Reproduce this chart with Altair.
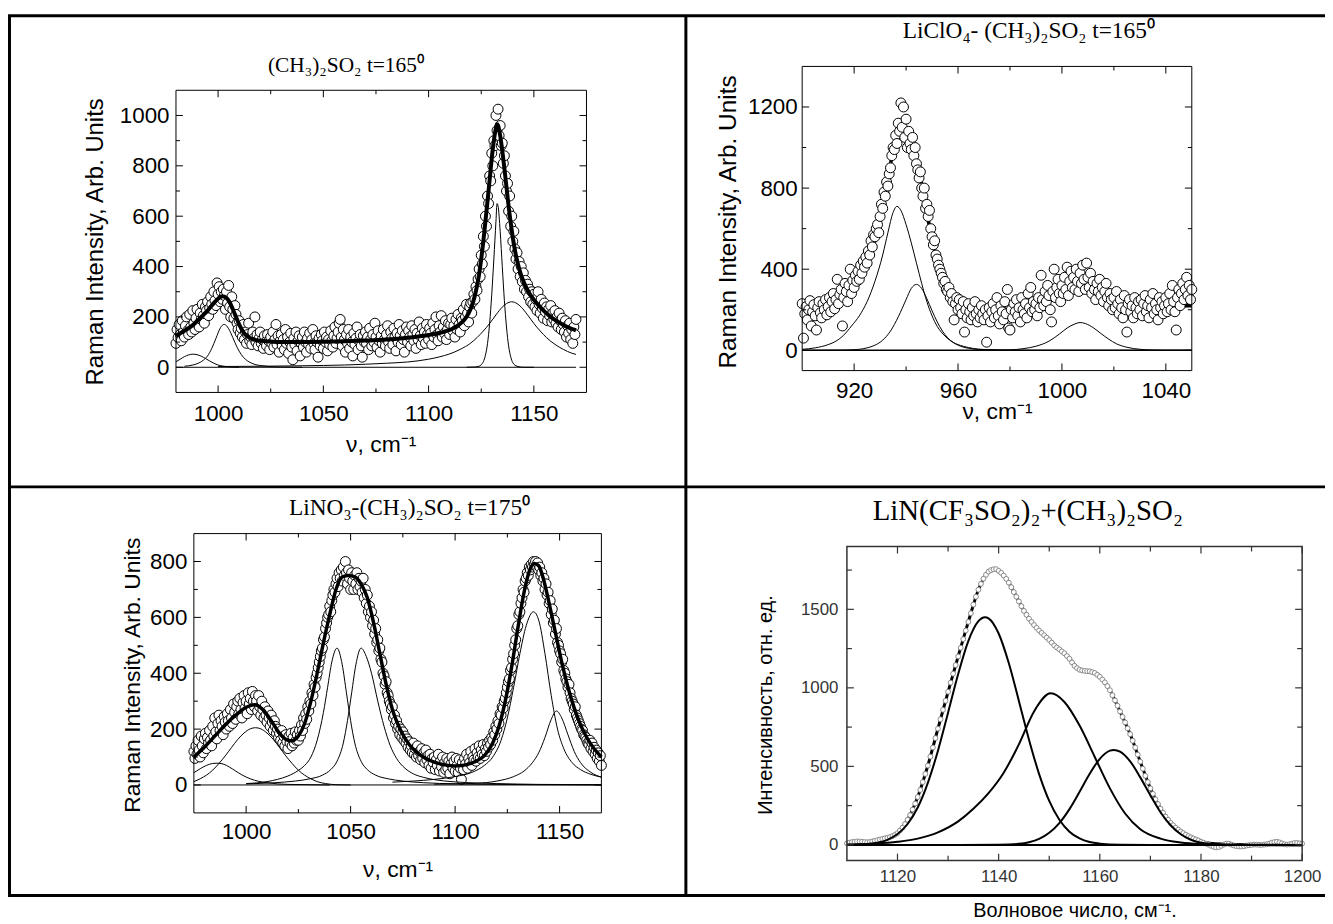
import altair as alt
import pandas as pd
import numpy as np

W, H = 1325, 916
SANS = "Liberation Sans, Arial, sans-serif"
SERIF = "Liberation Serif, Times New Roman, serif"

# ---------------- Panel 1: (CH3)2SO2 t=165 ----------------
p1_scatter_start, p1_scatter_step = 980, 0.5
p1_scatter_y = [
    95,150,118,170,130,105,185,140,120,165,200,145,130,210,160,140,225,175,150,195,
    230,170,160,215,190,250,205,175,240,225,260,205,235,280,250,230,300,265,245,335,
    290,320,260,300,270,310,285,230,300,255,325,240,200,280,230,195,245,210,175,150,
    185,135,155,120,170,110,140,95,130,175,105,120,90,140,115,200,100,130,85,115,
    140,95,110,75,125,100,85,130,105,70,120,95,140,80,110,170,90,125,60,105,
    130,85,110,70,150,95,120,55,100,135,80,30,115,90,140,65,105,125,45,95,
    120,80,140,100,60,115,90,135,75,110,150,95,70,125,100,40,115,85,130,105,
    75,140,100,120,65,110,90,145,105,80,125,160,95,115,140,175,190,120,85,150,
    110,60,130,95,150,75,120,100,45,135,90,115,160,70,105,130,85,40,125,100,
    140,95,120,70,155,110,85,130,100,175,120,80,145,105,60,125,95,150,110,85,
    130,165,100,75,140,115,90,155,120,65,135,100,170,125,90,145,110,60,130,160,
    100,145,120,85,165,130,105,150,75,135,110,180,125,90,155,115,140,95,170,130,
    110,155,135,90,175,120,150,200,130,105,165,140,205,120,160,135,185,110,150,175,
    130,170,195,145,165,120,190,150,210,170,140,195,185,230,165,200,250,215,180,240,
    255,215,260,290,270,320,305,350,390,360,445,410,520,480,600,560,680,650,760,740,
    850,800,900,880,1000,940,1025,920,960,880,890,810,840,760,700,730,620,680,560,600,
    500,540,470,430,455,390,420,360,400,340,375,310,345,300,330,280,310,260,300,250,
    290,240,270,225,300,250,215,270,235,195,255,220,240,185,230,205,245,180,215,190,
    225,175,200,160,215,185,150,195,170,140,185,120,165,135,175,110,150,95,160,130,
    190]
p1_fit = [(980,125),(983,140),(986,155),(989,175),(992,200),(995,225),(998,255),(1000,272),
          (1002,282),(1004,275),(1006,250),(1008,210),(1010,170),(1012,140),(1014,122),(1016,113),
          (1018,108),(1020,105),(1025,102),(1030,100),(1040,100),(1050,101),(1060,103),(1070,106),
          (1080,110),(1090,117),(1095,122),(1100,128),(1105,136),(1108,143),(1110,148),(1112,156),
          (1114,166),(1116,180),(1118,200),(1120,232),(1122,285),(1124,370),(1125,430),(1126,500),
          (1127,580),(1128,660),(1129,745),(1130,830),(1131,900),(1132,950),(1132.5,965),(1133,960),
          (1134,920),(1135,860),(1136,790),(1137,715),(1138,640),(1139,575),(1140,515),(1141,465),
          (1142,425),(1143,392),(1144,365),(1145,343),(1146,323),(1148,292),(1150,268),(1152,248),
          (1155,222),(1158,200),(1161,183),(1164,168),(1167,156),(1170,147)]
p1_comp_a = [(980,22),(982,32),(984,42),(986,49),(988,52),(990,50),(992,44),(994,35),(996,25),
             (998,16),(1000,9),(1002,5),(1005,2),(1010,0)]
p1_comp_b = [(984,4),(988,9),(990,14),(993,28),(995,45),(997,75),(999,115),(1001,155),(1002,167),
             (1003,170),(1004,165),(1006,137),(1008,98),(1010,64),(1012,40),(1014,25),(1016,16),
             (1018,10),(1020,7),(1024,3),(1030,1),(1040,0)]
p1_comp_c = [(1000,3),(1020,4),(1040,6),(1060,9),(1080,16),(1090,21),(1100,32),(1105,41),(1110,53),
             (1115,71),(1120,96),(1123,118),(1126,144),(1129,174),(1132,208),(1135,239),(1137,253),
             (1139.5,260),(1142,253),(1144,239),(1147,208),(1150,174),(1153,144),(1156,118),(1160,91),
             (1164,71),(1168,56),(1170,51)]
p1_comp_d = [(1118,0),(1122,1),(1124,4),(1125,10),(1126,22),(1127,48),(1128,95),(1129,175),(1130,290),
             (1131,430),(1132,580),(1132.5,650),(1133,640),(1134,540),(1135,400),(1136,265),(1137,160),
             (1138,85),(1139,42),(1140,18),(1142,4),(1145,0),(1150,0)]
p1_base = [(980,0),(1170,0)]

# ---------------- Panel 2: LiClO4-(CH3)2SO2 t=165 ----------------
p2_scatter_start, p2_scatter_step = 900, 0.5
p2_scatter_y = [
    230,60,180,215,150,200,245,120,190,225,170,100,210,240,185,160,230,200,250,175,
    215,260,190,240,280,205,250,350,230,275,300,120,260,330,290,240,320,400,280,345,
    310,370,340,390,350,420,380,440,410,460,430,490,470,540,510,570,560,600,620,580,
    660,720,700,780,760,830,810,870,900,960,1000,990,1060,1020,1120,1080,1220,1100,1200,1050,
    1140,1000,1080,1020,990,1050,960,1000,920,890,850,880,800,760,800,700,720,660,690,600,
    560,520,540,470,450,420,400,380,360,330,340,300,290,310,260,280,240,150,230,260,
    200,250,210,180,240,90,200,160,230,190,150,210,170,240,180,140,200,160,220,180,
    150,200,40,170,210,140,190,230,160,200,260,170,130,220,190,150,240,180,300,110,
    100,200,160,230,190,250,170,210,140,260,200,180,230,160,280,210,310,190,240,200,
    230,170,260,210,370,250,220,290,240,320,270,200,140,290,400,260,310,350,280,240,
    320,280,360,300,410,270,340,390,310,360,300,400,340,290,380,330,420,350,300,430,
    360,310,380,280,340,300,250,330,290,350,270,310,240,290,330,260,220,280,250,200,
    260,210,290,230,180,250,210,160,270,200,90,230,250,190,220,160,260,210,180,240,
    200,250,170,230,270,190,220,160,250,210,280,180,230,200,150,260,210,240,180,220,
    260,190,230,280,200,320,240,190,100,260,300,220,280,330,250,300,360,270,320,250,
    300]
p2_fit = [(900,195),(905,202),(910,218),(913,235),(916,266),(919,312),(922,363),(925,440),(928,553),
          (931,707),(933,839),(935,986),(936.5,1046),(938,1071),(940,1055),(942,1020),(944,939),
          (946,819),(948,678),(950,548),(952,440),(955,330),(958,261),(962,217),(966,195),(970,188),
          (975,187),(980,191),(985,199),(990,214),(995,242),(999,279),(1002,310),(1005,331),(1007,339),
          (1009,335),(1012,316),(1015,288),(1018,261),(1021,239),(1025,224),(1030,216),(1035,214),
          (1040,215),(1045,218),(1050,220)]
p2_comp_e = [(900,5),(905,12),(910,28),(913,45),(916,75),(919,120),(922,170),(925,240),(928,340),
             (931,470),(933,580),(935,680),(936.5,710),(938,690),(940,620),(942,530),(944,430),
             (946,330),(948,240),(950,170),(952,118),(955,70),(958,40),(962,20),(966,9),(970,4),
             (980,1),(990,0),(1050,0)]
p2_comp_g = [(900,0),(915,1),(920,3),(925,12),(928,25),(931,50),(934,95),(937,165),(940,250),
             (942,305),(944,325),(946,305),(948,255),(950,195),(952,140),(954,95),(956,62),(958,40),
             (961,20),(965,8),(970,2),(975,0)]
p2_comp_h = [(970,0),(980,2),(985,8),(990,20),(995,45),(999,80),(1002,110),(1005,130),(1007,137),
             (1009,132),(1012,112),(1015,83),(1018,55),(1021,32),(1025,15),(1030,5),(1035,1),
             (1040,0),(1050,0)]
p2_base = [(900,0),(1050,0)]

# ---------------- Panel 3: LiNO3-(CH3)2SO2 t=175 ----------------
p3_scatter_start, p3_scatter_step = 975, 0.5
p3_scatter_y = [
    120,95,140,110,160,125,100,175,140,115,165,185,130,170,150,195,160,140,210,175,
    240,190,165,220,250,195,230,210,180,245,225,200,255,230,210,270,240,220,290,260,
    235,280,300,255,310,270,240,295,320,275,300,255,330,290,310,270,335,300,280,320,
    300,265,320,280,250,300,270,240,280,250,225,265,240,210,250,225,195,230,210,185,
    200,170,185,160,195,150,175,140,180,155,130,175,150,185,140,170,150,190,160,180,
    160,195,175,215,195,240,220,255,235,280,265,300,290,330,320,360,350,385,400,420,
    440,460,480,490,520,530,560,580,600,610,640,620,660,680,700,690,720,740,710,760,
    740,770,730,780,750,800,760,720,770,740,700,760,730,700,750,720,760,700,740,710,
    730,690,740,670,700,650,680,620,640,600,620,570,590,540,560,510,520,480,490,450,
    440,400,390,360,370,330,320,300,290,270,280,240,250,220,230,200,210,180,200,170,
    190,160,175,150,165,135,155,125,140,115,150,110,130,100,140,105,120,90,130,95,
    115,80,125,90,105,70,110,60,95,80,100,55,90,70,110,50,85,65,100,45,
    80,55,95,60,85,40,75,100,60,85,50,95,70,45,90,60,20,80,55,95,
    75,110,60,95,80,120,70,100,90,130,85,115,100,140,95,125,110,145,105,130,
    120,150,135,160,145,170,160,190,180,210,200,230,220,255,250,280,275,300,310,330,
    350,370,380,410,420,450,470,500,520,560,570,610,620,650,670,700,690,730,740,760,
    750,780,770,790,780,800,790,800,780,795,770,780,750,760,730,740,700,720,680,690,
    650,660,610,630,580,590,540,560,510,500,480,470,440,450,410,400,380,370,350,360,
    330,310,300,290,270,280,250,240,230,220,210,200,195,180,175,170,160,150,145,160,
    130,150,120,135,110,125,95,115,85,105,70]
p3_fit = [(975,100),(980,135),(985,175),(990,215),(995,250),(1000,278),(1004,287),(1008,270),
          (1012,230),(1016,185),(1020,160),(1022,158),(1025,175),(1028,220),(1031,300),(1034,400),
          (1037,510),(1040,610),(1043,700),(1046,745),(1049,750),(1052,745),(1055,720),(1058,670),
          (1061,580),(1064,470),(1067,360),(1070,270),(1074,195),(1078,145),(1082,115),(1086,95),
          (1090,82),(1095,72),(1100,68),(1105,72),(1110,85),(1114,105),(1118,150),(1121,210),
          (1124,300),(1127,420),(1130,560),(1133,690),(1136,775),(1138,793),(1140,785),(1142,745),
          (1145,650),(1148,545),(1151,440),(1154,350),(1157,275),(1160,215),(1163,170),(1166,135),
          (1170,100)]
p3_comp_1 = [(975,44),(978,58),(981,70),(984,77),(986,78),(989,75),(992,64),(995,50),(998,36),
             (1002,22),(1006,13),(1010,8),(1015,4),(1020,2),(1030,1),(1040,0)]
p3_comp_2 = [(975,12),(978,22),(981,35),(984,53),(987,77),(990,104),(993,134),(996,163),(999,186),
             (1002,201),(1004.5,205),(1007,201),(1010,186),(1013,163),(1016,134),(1019,104),(1022,77),
             (1025,53),(1028,35),(1031,22),(1034,12),(1038,5),(1043,1),(1050,0)]
p3_comp_3 = [(1000,5),(1010,12),(1015,20),(1020,32),(1025,52),(1028,70),(1031,100),(1034,160),
             (1037,260),(1039,350),(1041,440),(1043.5,490),(1046,430),(1048,330),(1050,230),(1052,150),
             (1055,85),(1058,55),(1062,35),(1068,22),(1075,14),(1085,8),(1100,4),(1120,2),(1140,1),
             (1170,0)]
p3_comp_4 = [(1000,4),(1013.5,8),(1023.5,14),(1030.5,22),(1036.5,35),(1040.5,55),(1043.5,85),
             (1046.5,150),(1048.5,230),(1050.5,330),(1052.5,430),(1055,490),(1057.5,460),(1060,400),
             (1063,300),(1066,210),(1069,140),(1072,95),(1076,60),(1080,40),(1085,27),(1090,19),
             (1100,11),(1110,7),(1120,5),(1140,2),(1170,1)]
p3_comp_5 = [(1070,10),(1080,14),(1090,20),(1100,30),(1108,45),(1114,70),(1118,100),(1122,160),
             (1125,240),(1128,350),(1131,470),(1134,570),(1137.5,620),(1140,590),(1143,470),(1146,320),
             (1149,200),(1152,130),(1156,80),(1160,55),(1165,38),(1170,28)]
p3_comp_6 = [(1090,3),(1100,4),(1110,6),(1120,14),(1128,30),(1133,50),(1137,80),(1140,115),(1143,170),
             (1146,235),(1148.5,265),(1151,240),(1154,180),(1157,120),(1160,80),(1165,45),(1170,28)]
p3_base = [(975,0),(1170,0)]

# ---------------- Panel 4: LiN(CF3SO2)2+(CH3)2SO2 ----------------
p4_scatter_start, p4_scatter_step = 1110, 0.5
p4_scatter_y = [
    10,14,18,20,22,22,20,18,17,18,22,26,30,34,38,42,45,50,56,64,
    75,92,110,133,160,190,225,263,305,350,400,452,505,562,620,680,740,800,860,918,
    975,1033,1090,1145,1200,1255,1310,1365,1420,1475,1530,1580,1625,1662,1695,1720,1740,1750,1755,1756,
    1745,1732,1715,1694,1670,1641,1610,1580,1550,1520,1490,1465,1440,1420,1400,1382,1365,1350,1335,1320,
    1305,1288,1270,1257,1245,1232,1220,1203,1185,1162,1140,1126,1115,1111,1108,1106,1105,1100,1095,1083,
    1070,1053,1035,1011,985,953,920,886,850,815,780,742,705,663,620,575,530,485,440,400,
    360,325,290,260,230,205,180,160,140,125,110,97,85,75,65,56,48,41,35,28,
    20,14,8,2,-6,-12,-16,-14,-6,2,8,8,2,-4,-8,-10,-10,-8,-4,-2,
    0,2,2,0,0,2,4,8,14,18,20,16,10,4,2,4,8,12,12,10,
    8]
p4_fit = [(1110,2),(1112,4),(1114,8),(1116,16),(1118,40),(1120,75),(1122,160),(1124,305),(1126,505),
          (1128,740),(1130,975),(1132,1200),(1134,1420),(1136,1625),(1138,1740),(1139,1755),(1140,1745),
          (1142,1670),(1144,1550),(1146,1440),(1148,1365),(1150,1305),(1152,1245),(1154,1185),
          (1156,1115),(1158,1105),(1160,1070),(1162,985),(1164,850),(1166,705),(1168,530),(1170,360),
          (1172,230),(1174,140),(1176,85),(1178,48),(1180,20),(1184,5),(1190,1),(1200,0)]
p4_comp_1 = [(1110,1),(1114,6),(1118,32),(1120,69),(1122,133),(1124,238),(1126,395),(1128,600),
             (1130,842),(1132,1088),(1134,1298),(1136,1425),(1137.3,1450),(1138,1443),(1140,1346),
             (1142,1158),(1144,917),(1146,670),(1148,451),(1150,280),(1152,160),(1154,84),(1156,41),
             (1158,18),(1160,8),(1164,1),(1170,0),(1200,0)]
p4_comp_2 = [(1110,2),(1115,8),(1120,20),(1124,40),(1128,80),(1132,150),(1135,230),(1138,330),
             (1141,460),(1144,640),(1147,850),(1150.3,965),(1153,910),(1156,760),(1159,560),(1162,360),
             (1165,200),(1168,100),(1172,40),(1176,15),(1180,5),(1185,1),(1200,0)]
p4_comp_3 = [(1130,0),(1140,1),(1144,7),(1146,17),(1148,38),(1150,77),(1152,139),(1154,228),(1156,338),
             (1158,453),(1160,548),(1162,600),(1162.8,605),(1164,594),(1166,532),(1168,430),(1170,315),
             (1172,208),(1174,125),(1176,68),(1178,33),(1180,14),(1184,2),(1190,0),(1200,0)]
p4_base = [(1110,0),(1200,0)]

# ---------------- texts ----------------
titles = ["(CH₃)₂SO₂ t=165⁰", "LiClO₄- (CH₃)₂SO₂ t=165⁰", "LiNO₃-(CH₃)₂SO₂ t=175⁰",
          "LiN(CF₃SO₂)₂+(CH₃)₂SO₂"]
xtitles = ["ν, cm⁻¹", "ν, cm⁻¹", "ν, cm⁻¹", "Волновое число, см⁻¹."]
ytitles = ["Raman Intensity, Arb. Units", "Raman Intensity, Arb. Units",
           "Raman Intensity, Arb. Units", "Интенсивность, отн. ед."]


def grid_df(start, step, ys):
    return pd.DataFrame({"x": start + step * np.arange(len(ys)), "y": ys})


def comps_df(named):
    rows = []
    for name, pts in named:
        for x, y in pts:
            rows.append({"x": x, "y": y, "c": name})
    return pd.DataFrame(rows)


def pts_df(pts):
    return pd.DataFrame(pts, columns=["x", "y"])


panels = [
    dict(l=169, r=582, t=80, b=384, xdom=[980, 1175], ydom=[-100, 1100],
         xmaj=[1000, 1050, 1100, 1150], xmin=[1025, 1075, 1125],
         ymaj=[0, 200, 400, 600, 800, 1000], ymin=[100, 300, 500, 700, 900],
         lfs=22.5, lc="black", lpx=10, lpy=7, xtfs=23, ytfs=24, txx=375, txy=52, tyx=-81, tyy=232,
         tmaj=7, tmin=4, tw=1, fc="black", fw=1,
         scatter=grid_df(p1_scatter_start, p1_scatter_step, p1_scatter_y), msize=100, mstroke="black",
         fit=pts_df(p1_fit), fitw=4, fit_on_top=True,
         comps=comps_df([("a", p1_comp_a), ("b", p1_comp_b), ("c", p1_comp_c), ("d", p1_comp_d)]),
         compw=1, base=pts_df(p1_base), basew=1,
         title=(340, 56, 21.5)),
    dict(l=799, r=1191, t=56, b=362, xdom=[900, 1050], ydom=[-100, 1400],
         xmaj=[920, 960, 1000, 1040], xmin=[940, 980, 1020],
         ymaj=[0, 400, 800, 1200], ymin=[200, 600, 1000],
         lfs=22.5, lc="black", lpx=9, lpy=5, xtfs=23, ytfs=24.5, txx=995, txy=41, tyx=-74, tyy=212,
         tmaj=7, tmin=4, tw=1, fc="black", fw=1,
         scatter=grid_df(p2_scatter_start, p2_scatter_step, p2_scatter_y), msize=100, mstroke="black",
         fit=pts_df(p2_fit), fitw=3.5, fit_on_top=False,
         comps=comps_df([("e", p2_comp_e), ("g", p2_comp_g), ("h", p2_comp_h)]),
         compw=1, base=pts_df(p2_base), basew=1.5,
         title=(1027, 20, 23.5)),
    dict(l=187, r=597, t=526, b=807, xdom=[975, 1170], ydom=[-100, 900],
         xmaj=[1000, 1050, 1100, 1150], xmin=[1025, 1075, 1125],
         ymaj=[0, 200, 400, 600, 800], ymin=[100, 300, 500, 700],
         lfs=22.5, lc="black", lpx=8, lpy=7, xtfs=23, ytfs=23, txx=392, txy=57, tyx=-62, tyy=668,
         tmaj=7, tmin=4, tw=1, fc="black", fw=1,
         scatter=grid_df(p3_scatter_start, p3_scatter_step, p3_scatter_y), msize=100, mstroke="black",
         fit=pts_df(p3_fit), fitw=3.5, fit_on_top=True,
         comps=comps_df([("1", p3_comp_1), ("2", p3_comp_2), ("3", p3_comp_3), ("4", p3_comp_4),
                         ("5", p3_comp_5), ("6", p3_comp_6)]),
         compw=1, base=pts_df(p3_base), basew=1,
         title=(404, 500, 23.5)),
    dict(l=844, r=1302, t=539, b=855, xdom=[1110, 1200], ydom=[-100, 1900],
         xmaj=[1120, 1140, 1160, 1180, 1200], xmin=[1130, 1150, 1170, 1190],
         ymaj=[0, 500, 1000, 1500], ymin=[250, 750, 1250, 1750],
         lfs=17, lc="#333333", lpx=8, lpy=9, xtfs=20, ytfs=20, txx=1073, txy=50, tyx=-82, tyy=698,
         tmaj=7, tmin=5, tw=1.2, fc="#333333", fw=1.5,
         scatter=grid_df(p4_scatter_start, p4_scatter_step, p4_scatter_y), msize=24, mstroke="#8a8a8a",
         fit=pts_df(p4_fit), fitw=3, fit_on_top=False,
         comps=comps_df([("q1", p4_comp_1), ("q2", p4_comp_2), ("q3", p4_comp_3)]),
         compw=2, base=pts_df(p4_base), basew=2,
         title=(1026, 503, 29)),
]


def make_panel(i, cfg):
    xs = alt.Scale(domain=cfg["xdom"], range=[cfg["l"], cfg["r"]], nice=False, zero=False)
    ys = alt.Scale(domain=cfg["ydom"], range=[cfg["b"], cfg["t"]], nice=False, zero=False)
    xax = alt.Axis(orient="bottom", offset=-(H - cfg["b"]), values=cfg["xmaj"], format="d",
                   ticks=False, tickSize=0, domain=False, grid=False,
                   labelFont=SANS, labelFontSize=cfg["lfs"], labelColor=cfg["lc"],
                   labelPadding=cfg["lpx"], labelFlush=False, labelOverlap=False,
                   title=xtitles[i], titleFont=SANS, titleFontSize=cfg["xtfs"],
                   titleFontWeight="normal", titleColor="black",
                   titleX=cfg["txx"], titleY=cfg["txy"], titleAlign="center",
                   titleBaseline="middle", titleAngle=0)
    yax = alt.Axis(orient="left", offset=-cfg["l"], values=cfg["ymaj"], format="d",
                   ticks=False, tickSize=0, domain=False, grid=False,
                   labelFont=SANS, labelFontSize=cfg["lfs"], labelColor=cfg["lc"],
                   labelPadding=cfg["lpy"], labelFlush=False, labelOverlap=False,
                   title=ytitles[i], titleFont=SANS, titleFontSize=cfg["ytfs"],
                   titleFontWeight="normal", titleColor="black",
                   titleX=cfg["tyx"], titleY=cfg["tyy"], titleAlign="center",
                   titleBaseline="middle", titleAngle=270)

    # every layer carries the same axis definition so the shared axis is kept
    def X(f="x"):
        return alt.X(f + ":Q", scale=xs, axis=xax)

    def Y(f="y"):
        return alt.Y(f + ":Q", scale=ys, axis=yax)

    fit = alt.Chart(cfg["fit"]).mark_line(color="black", strokeWidth=cfg["fitw"],
                                          interpolate="monotone").encode(x=X(), y=Y())
    scatter = alt.Chart(cfg["scatter"]).mark_point(
        shape="circle", filled=True, fill="white", stroke=cfg["mstroke"], strokeWidth=1,
        size=cfg["msize"], opacity=1, fillOpacity=1).encode(x=X(), y=Y())
    base = alt.Chart(cfg["base"]).mark_line(color="black", strokeWidth=cfg["basew"]).encode(x=X(), y=Y())
    comps = alt.Chart(cfg["comps"]).mark_line(color="black", strokeWidth=cfg["compw"],
                                              interpolate="monotone").encode(
        x=X(), y=Y(), detail="c:N")

    frame_df = pd.DataFrame({"x0": [cfg["xdom"][0]], "x1": [cfg["xdom"][1]],
                             "y0": [cfg["ydom"][0]], "y1": [cfg["ydom"][1]]})
    frame = alt.Chart(frame_df).mark_rect(fill="transparent", stroke=cfg["fc"],
                                          strokeWidth=cfg["fw"]).encode(
        x=X("x0"), x2="x1:Q", y=Y("y0"), y2="y1:Q")

    ticks = []
    x0, x1 = cfg["xdom"]
    y0, y1 = cfg["ydom"]
    for vals, sz in ((cfg["xmaj"], cfg["tmaj"]), (cfg["xmin"], cfg["tmin"])):
        df = pd.DataFrame({"tx": vals, "yb": [y0] * len(vals), "yt": [y1] * len(vals)})
        for col, off in (("yb", -sz / 2), ("yt", sz / 2)):
            ticks.append(alt.Chart(df).mark_tick(orient="vertical", size=sz, thickness=cfg["tw"],
                                                 color=cfg["fc"], yOffset=off, opacity=1).encode(
                x=X("tx"), y=Y(col)))
    for vals, sz in ((cfg["ymaj"], cfg["tmaj"]), (cfg["ymin"], cfg["tmin"])):
        df = pd.DataFrame({"ty": vals, "xl": [x0] * len(vals), "xr": [x1] * len(vals)})
        for col, off in (("xl", sz / 2), ("xr", -sz / 2)):
            ticks.append(alt.Chart(df).mark_tick(orient="horizontal", size=sz, thickness=cfg["tw"],
                                                 color=cfg["fc"], xOffset=off, opacity=1).encode(
                x=X(col), y=Y("ty")))

    if cfg["fit_on_top"]:
        layers = [scatter, base, comps, fit]
    else:
        layers = [fit, scatter, base, comps]
    layers += [frame] + ticks
    return alt.layer(*layers)


# table borders (layout decoration, pixel positions)
lines_df = pd.DataFrame({
    "x1": [1.5, 682, 0, 0, 0],
    "x2": [1.5, 682, W, W, W],
    "y1": [5, 5, 5, 479, 890],
    "y2": [890, 890, 5, 479, 890],
})
table = alt.Chart(lines_df).mark_rule(color="black", strokeWidth=3).encode(
    x=alt.X("x1:Q", scale=None), x2="x2:Q",
    y=alt.Y("y1:Q", scale=None), y2="y2:Q")

title_layers = []
for i, cfg in enumerate(panels):
    tx, ty, fs = cfg["title"]
    tdf = pd.DataFrame({"t": [titles[i]], "px": [tx], "py": [ty]})
    title_layers.append(alt.Chart(tdf).mark_text(font=SERIF, fontSize=fs, color="black",
                                                 align="center", baseline="middle").encode(
        text="t:N", x=alt.X("px:Q", scale=None), y=alt.Y("py:Q", scale=None)))

panel_layers = [make_panel(i, cfg) for i, cfg in enumerate(panels)]

chart = alt.layer(table, *title_layers, *panel_layers).resolve_scale(
    x="independent", y="independent"
).properties(
    width=W, height=H, padding=0, autosize=alt.AutoSizeParams(type="none")
).configure_view(stroke=None)

chart.save("out.html", embed_options={"renderer": "svg", "actions": False})
